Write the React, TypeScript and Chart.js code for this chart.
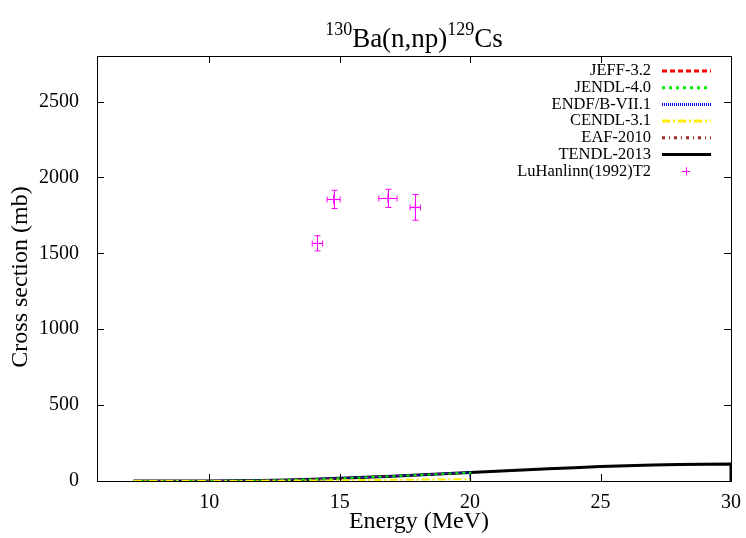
import React, { useEffect, useRef } from "react";
import { Chart, registerables } from "chart.js";

Chart.register(...registerables);

const energyTendl = [7.1, 8, 9, 10, 11, 12, 13, 14, 15, 16, 17, 18, 19, 20, 21, 22, 23, 24, 25, 26, 27, 28, 29, 30, 30];
const xsTendl = [0, 0, 0, 0.5, 1.5, 3.5, 7, 12, 18, 25, 32, 40, 48, 56, 64, 72, 80, 88, 95, 101, 106, 109, 111, 112, 0];

const energyLib = [7.1, 8, 9, 10, 11, 12, 13, 14, 15, 16, 17, 18, 19, 20, 20];
const xsJeff = [0, 0, 0, 0.5, 1.5, 3.5, 7, 12, 18, 25, 33, 41, 49, 57, 0];
const xsJendl = [0, 0, 0, 0.4, 1.2, 3, 6, 11, 17, 24, 31, 39, 47, 55, 0];
const xsEndf = [0, 0, 0, 0.5, 1.5, 3.5, 7, 12, 18, 25, 32, 40, 48, 56, 0];
const xsCendl = [0, 0, 0, 0.2, 0.5, 1, 2, 3, 4.5, 6, 7.5, 9, 10.5, 12, 0];
const xsEaf = [0, 0, 0, 0.5, 1.6, 3.6, 7.2, 12.5, 18.5, 26, 33, 41, 49, 57, 0];

const expE = [14.15, 14.77, 16.85, 17.9];
const expXs = [1566, 1855, 1862, 1803];
const expDE = [0.2, 0.25, 0.35, 0.2];
const expDXs = [50, 60, 60, 85];

const xTicks = [10, 15, 20, 25, 30];
const yTicks = [0, 500, 1000, 1500, 2000, 2500];

const SERIF = "'Liberation Serif', 'DejaVu Serif', serif";

const legendItems = [
  { label: "JEFF-3.2", color: "#ff0000", dash: [5, 3], width: 3, kind: "line" },
  { label: "JENDL-4.0", color: "#00ee00", dash: [3, 4], width: 3, kind: "line" },
  { label: "ENDF/B-VII.1", color: "#0000ff", dash: [1, 1], width: 3, kind: "line" },
  { label: "CENDL-3.1", color: "#ffee00", dash: [8, 3, 2, 3], width: 3, kind: "line" },
  { label: "EAF-2010", color: "#a52a2a", dash: [3, 4, 1, 4], width: 3, kind: "line" },
  { label: "TENDL-2013", color: "#000000", dash: [], width: 3, kind: "line" },
  { label: "LuHanlinn(1992)T2", color: "#ff00ff", dash: [], width: 1, kind: "point" },
];

function pts(xs: number[], ys: number[]) {
  return xs.map((x, i) => ({ x, y: ys[i] }));
}

const framePlugin = {
  id: "frame",
  afterDatasetsDraw(chart: any) {
    const { ctx, chartArea: a, scales } = chart;
    const xs = scales.x;
    const ys = scales.y;
    ctx.save();
    // error bars
    ctx.strokeStyle = "#ff00ff";
    ctx.lineWidth = 1;
    for (let i = 0; i < expE.length; i++) {
      const px = Math.round(xs.getPixelForValue(expE[i])) + 0.5;
      const py = Math.round(ys.getPixelForValue(expXs[i])) + 0.5;
      const y1 = ys.getPixelForValue(expXs[i] - expDXs[i]);
      const y2 = ys.getPixelForValue(expXs[i] + expDXs[i]);
      const x1 = xs.getPixelForValue(expE[i] - expDE[i]);
      const x2 = xs.getPixelForValue(expE[i] + expDE[i]);
      ctx.beginPath();
      ctx.moveTo(px, y1);
      ctx.lineTo(px, y2);
      ctx.moveTo(px - 3, y1);
      ctx.lineTo(px + 3, y1);
      ctx.moveTo(px - 3, y2);
      ctx.lineTo(px + 3, y2);
      ctx.moveTo(x1, py);
      ctx.lineTo(x2, py);
      ctx.moveTo(x1, py - 3);
      ctx.lineTo(x1, py + 3);
      ctx.moveTo(x2, py - 3);
      ctx.lineTo(x2, py + 3);
      ctx.stroke();
    }
    // frame
    ctx.strokeStyle = "#000";
    ctx.lineWidth = 1;
    ctx.setLineDash([]);
    ctx.strokeRect(a.left + 0.5, a.top + 0.5, a.right - a.left, a.bottom - a.top);
    ctx.beginPath();
    for (const t of xTicks) {
      const p = Math.round(xs.getPixelForValue(t)) + 0.5;
      ctx.moveTo(p, a.bottom);
      ctx.lineTo(p, a.bottom - 7);
      ctx.moveTo(p, a.top);
      ctx.lineTo(p, a.top + 7);
    }
    for (const t of yTicks) {
      const p = Math.round(ys.getPixelForValue(t)) + 0.5;
      ctx.moveTo(a.left, p);
      ctx.lineTo(a.left + 7, p);
      ctx.moveTo(a.right, p);
      ctx.lineTo(a.right - 7, p);
    }
    ctx.stroke();
    // legend
    const rowY0 = 71;
    const rowH = 16.7;
    ctx.font = `16.5px ${SERIF}`;
    ctx.textAlign = "right";
    ctx.textBaseline = "middle";
    legendItems.forEach((it, i) => {
      const y = rowY0 + i * rowH;
      ctx.fillStyle = "#000";
      ctx.fillText(it.label, 651, y);
      if (it.kind === "line") {
        ctx.strokeStyle = it.color;
        ctx.lineWidth = it.width;
        ctx.setLineDash(it.dash);
        ctx.beginPath();
        ctx.moveTo(662, y);
        ctx.lineTo(711, y);
        ctx.stroke();
        ctx.setLineDash([]);
      } else {
        ctx.strokeStyle = it.color;
        ctx.lineWidth = 1;
        ctx.beginPath();
        ctx.moveTo(686 - 4, Math.round(y) + 0.5);
        ctx.lineTo(686 + 4, Math.round(y) + 0.5);
        ctx.moveTo(686.5, y - 4);
        ctx.lineTo(686.5, y + 4);
        ctx.stroke();
      }
    });
    // title
    ctx.fillStyle = "#000";
    ctx.textAlign = "left";
    ctx.textBaseline = "alphabetic";
    const parts = [
      { t: "130", sup: true },
      { t: "Ba(n,np)", sup: false },
      { t: "129", sup: true },
      { t: "Cs", sup: false },
    ];
    const big = `27px ${SERIF}`;
    const small = `18px ${SERIF}`;
    let total = 0;
    for (const p of parts) {
      ctx.font = p.sup ? small : big;
      total += ctx.measureText(p.t).width;
    }
    let x = 414 - total / 2;
    for (const p of parts) {
      ctx.font = p.sup ? small : big;
      ctx.fillText(p.t, x, p.sup ? 35 : 47);
      x += ctx.measureText(p.t).width;
    }
    // axis titles
    ctx.font = `24px ${SERIF}`;
    ctx.textAlign = "center";
    ctx.textBaseline = "middle";
    ctx.fillText("Energy (MeV)", 419, 522);
    ctx.save();
    ctx.translate(21, 277);
    ctx.rotate(-Math.PI / 2);
    ctx.fillText("Cross section (mb)", 0, 0);
    ctx.restore();
    ctx.restore();
  },
};

export default function App() {
  const ref = useRef<HTMLCanvasElement | null>(null);
  useEffect(() => {
    if (!ref.current) return;
    const lineDs = (label: string, xs: number[], ys: number[], color: string, dash: number[], width: number) => ({
      label,
      data: pts(xs, ys),
      showLine: true,
      borderColor: color,
      backgroundColor: color,
      borderWidth: width,
      borderDash: dash,
      pointRadius: 0,
      tension: 0,
    });
    const chart = new Chart(ref.current, {
      type: "scatter",
      data: {
        datasets: [
          lineDs("CENDL-3.1", energyLib, xsCendl, "#ffee00", [8, 3, 2, 3], 2),
          lineDs("JENDL-4.0", energyLib, xsJendl, "#00ee00", [3, 4], 2),
          lineDs("ENDF/B-VII.1", energyLib, xsEndf, "#0000ff", [1, 1], 2),
          lineDs("EAF-2010", energyLib, xsEaf, "#a52a2a", [3, 4, 1, 4], 1),
          lineDs("JEFF-3.2", energyLib, xsJeff, "#ff0000", [5, 3], 1),
          lineDs("TENDL-2013", energyTendl, xsTendl, "#000000", [], 3),
          {
            label: "LuHanlinn(1992)T2",
            data: pts(expE, expXs),
            showLine: false,
            pointStyle: "cross",
            pointRadius: 5,
            borderColor: "#ff00ff",
            backgroundColor: "#ff00ff",
            borderWidth: 1,
          },
        ],
      },
      options: {
        animation: false,
        responsive: false,
        maintainAspectRatio: false,
        layout: { padding: { left: 0, top: 56, right: 15, bottom: 0 } },
        plugins: { legend: { display: false }, tooltip: { enabled: false }, title: { display: false } },
        scales: {
          x: {
            type: "linear",
            min: 5.7,
            max: 30,
            grid: { display: false },
            border: { display: false },
            afterBuildTicks: (s: any) => {
              s.ticks = xTicks.map((v) => ({ value: v }));
            },
            afterFit: (s: any) => {
              s.height = 57;
            },
            ticks: {
              color: "#000",
              font: { family: SERIF, size: 20 },
              padding: 2,
              maxRotation: 0,
              autoSkip: false,
              callback: (v: any) => String(v),
            },
          },
          y: {
            type: "linear",
            min: 0,
            max: 2800,
            grid: { display: false },
            border: { display: false },
            afterBuildTicks: (s: any) => {
              s.ticks = yTicks.map((v) => ({ value: v }));
            },
            afterFit: (s: any) => {
              s.width = 97;
            },
            ticks: {
              color: "#000",
              font: { family: SERIF, size: 20 },
              padding: 10,
              autoSkip: false,
              callback: (v: any) => String(v),
            },
          },
        },
      },
      plugins: [framePlugin],
    } as any);
    return () => chart.destroy();
  }, []);
  return (
    <div style={{ position: "fixed", left: 0, top: 0, width: 746, height: 538, background: "#fff" }}>
      <canvas ref={ref} width={746} height={538} style={{ width: 746, height: 538, display: "block" }} />
    </div>
  );
}
